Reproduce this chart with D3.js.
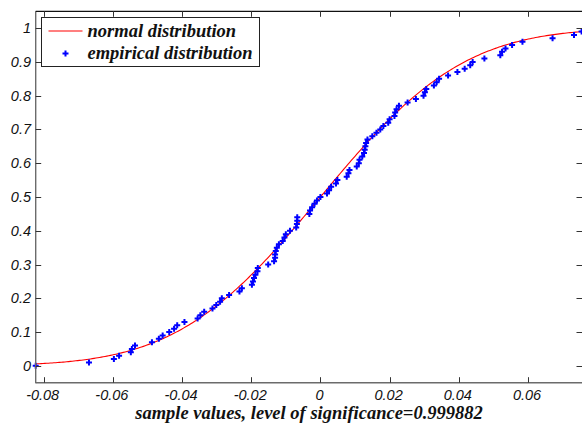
<!DOCTYPE html>
<html>
<head>
<meta charset="utf-8">
<script src="https://cdn.jsdelivr.net/npm/d3@7"></script>
<style>
  html, body { margin: 0; padding: 0; background: #fff; }
  svg { display: block; }
  .tick-label { font-family: "Liberation Sans", Arial, sans-serif; font-style: italic; font-size: 14.5px; fill: #111; }
  .serif-label { font-family: "Liberation Serif", "Times New Roman", serif; font-style: italic; font-weight: bold; font-size: 18.5px; fill: #111; }
</style>
</head>
<body>
<svg id="chart" width="582" height="425"></svg>
<script>
// Sorted sample values and their empirical CDF levels
const sampleValues = [
  -0.0823, -0.0669, -0.0597, -0.0582, -0.0548, -0.0545, -0.0536, -0.0487, -0.0467, -0.0456,
  -0.0437, -0.0423, -0.0414, -0.0393, -0.0355, -0.0347, -0.0336, -0.0312, -0.0301, -0.0290,
  -0.0285, -0.0264, -0.0234, -0.0227, -0.0198, -0.0195, -0.0192, -0.0188, -0.0182, -0.0181,
  -0.0151, -0.0134, -0.0131, -0.0131, -0.0129, -0.0126, -0.0120, -0.0109, -0.0104, -0.0100,
  -0.0088, -0.0070, -0.0068, -0.0067, -0.0067, -0.0032, -0.0030, -0.0024, -0.0017, -0.0010,
   0.0000,  0.0019,  0.0025,  0.0031,  0.0045,  0.0049,  0.0076,  0.0081,  0.0084,  0.0105,
   0.0111,  0.0113,  0.0121,  0.0126,  0.0128,  0.0130,  0.0132,  0.0136,  0.0150,  0.0162,
   0.0173,  0.0182,  0.0196,  0.0200,  0.0214,  0.0216,  0.0220,  0.0227,  0.0252,  0.0276,
   0.0298,  0.0302,  0.0306,  0.0328,  0.0336,  0.0343,  0.0369,  0.0396,  0.0417,  0.0433,
   0.0440,  0.0474,  0.0520,  0.0525,  0.0535,  0.0554,  0.0584,  0.0671,  0.0733,  0.0755
];
const empiricalCdf = [
  0.00, 0.01, 0.02, 0.03, 0.04, 0.05, 0.06, 0.07, 0.08, 0.09,
  0.10, 0.11, 0.12, 0.13, 0.14, 0.15, 0.16, 0.17, 0.18, 0.19,
  0.20, 0.21, 0.22, 0.23, 0.24, 0.25, 0.26, 0.27, 0.28, 0.29,
  0.30, 0.31, 0.32, 0.33, 0.34, 0.35, 0.36, 0.37, 0.38, 0.39,
  0.40, 0.41, 0.42, 0.43, 0.44, 0.45, 0.46, 0.47, 0.48, 0.49,
  0.50, 0.51, 0.52, 0.53, 0.54, 0.55, 0.56, 0.57, 0.58, 0.59,
  0.60, 0.61, 0.62, 0.63, 0.64, 0.65, 0.66, 0.67, 0.68, 0.69,
  0.70, 0.71, 0.72, 0.73, 0.74, 0.75, 0.76, 0.77, 0.78, 0.79,
  0.80, 0.81, 0.82, 0.83, 0.84, 0.85, 0.86, 0.87, 0.88, 0.89,
  0.90, 0.91, 0.92, 0.93, 0.94, 0.95, 0.96, 0.97, 0.98, 0.99
];

// Fitted normal distribution parameters
const fitMean = 0.0;
const fitSigma = 0.0325;

const xLimits = [-0.0823, 0.0759];
const yLimits = [-0.05, 1.05];
const xTicks = [-0.08, -0.06, -0.04, -0.02, 0, 0.02, 0.04, 0.06];
const xTickLabels = ["-0.08", "-0.06", "-0.04", "-0.02", "0", "0.02", "0.04", "0.06"];
const yTicks = [0, 0.1, 0.2, 0.3, 0.4, 0.5, 0.6, 0.7, 0.8, 0.9, 1];
const yTickLabels = ["0", "0.1", "0.2", "0.3", "0.4", "0.5", "0.6", "0.7", "0.8", "0.9", "1"];

const legendLabels = ["normal distribution", "empirical distribution"];
const xAxisTitle = "sample values, level of significance=0.999882";

const svg = d3.select("#chart");
const plotLeft = 35.7, plotRight = 583, plotTop = 11.3, plotBottom = 382.7;

const x = d3.scaleLinear().domain(xLimits).range([plotLeft, plotRight]);
const y = d3.scaleLinear().domain(yLimits).range([plotBottom, plotTop]);

svg.append("rect").attr("width", 582).attr("height", 425).attr("fill", "#fff");

// Error function approximation (Abramowitz & Stegun 7.1.26)
function erf(z) {
  const s = z < 0 ? -1 : 1;
  z = Math.abs(z);
  const t = 1 / (1 + 0.3275911 * z);
  const p = t * (0.254829592 + t * (-0.284496736 + t * (1.421413741 + t * (-1.453152027 + t * 1.061405429))));
  return s * (1 - p * Math.exp(-z * z));
}
const normalCdf = v => 0.5 * (1 + erf((v - fitMean) / (fitSigma * Math.SQRT2)));

const plot = svg.append("g");
const clipId = "plot-clip";
svg.append("clipPath").attr("id", clipId)
  .append("rect").attr("x", plotLeft).attr("y", plotTop)
  .attr("width", plotRight - plotLeft).attr("height", plotBottom - plotTop);

// Theoretical CDF curve
const [xMin, xMax] = x.domain();
const curveXs = d3.range(0, 301).map(i => xMin + (xMax - xMin) * i / 300);
plot.append("path")
  .datum(curveXs)
  .attr("clip-path", `url(#${clipId})`)
  .attr("fill", "none")
  .attr("stroke", "#ff0000")
  .attr("stroke-width", 1.1)
  .attr("d", d3.line().x(d => x(d)).y(d => y(normalCdf(d))));

// Empirical CDF points
const marker = d3.symbol().type(d3.symbolCross).size(20);
plot.append("g").selectAll("path")
  .data(sampleValues.map((v, i) => [v, empiricalCdf[i]]))
  .join("path")
  .attr("transform", d => `translate(${x(d[0])},${y(d[1])})`)
  .attr("d", marker)
  .attr("fill", "#0000ff");

// Axes: ticks drawn inward on all four sides
const axisG = svg.append("g");
const tickLen = 5.5;
axisG.append("line").attr("x1", plotLeft).attr("x2", plotLeft).attr("y1", plotTop).attr("y2", plotBottom + 0.5)
  .attr("stroke", "#6b6b6b").attr("stroke-width", 1.4);
axisG.append("line").attr("x1", plotLeft).attr("x2", 582).attr("y1", plotBottom).attr("y2", plotBottom)
  .attr("stroke", "#6b6b6b").attr("stroke-width", 1.4);
axisG.append("line").attr("x1", plotLeft).attr("x2", 582).attr("y1", plotTop).attr("y2", plotTop)
  .attr("stroke", "#111").attr("stroke-width", 1.2);
axisG.append("line").attr("x1", plotRight).attr("x2", plotRight).attr("y1", plotTop).attr("y2", plotBottom)
  .attr("stroke", "#111").attr("stroke-width", 1.2);

xTicks.forEach((t, i) => {
  const px = Math.round(x(t)) + 0.5;
  axisG.append("line").attr("x1", px).attr("x2", px).attr("y1", plotBottom).attr("y2", plotBottom - tickLen)
    .attr("stroke", "#333").attr("stroke-width", 1);
  axisG.append("line").attr("x1", px).attr("x2", px).attr("y1", plotTop).attr("y2", plotTop + tickLen)
    .attr("stroke", "#333").attr("stroke-width", 1);
  axisG.append("text").attr("class", "tick-label")
    .attr("x", x(t) - 1).attr("y", 400)
    .attr("text-anchor", "middle")
    .text(xTickLabels[i]);
});

yTicks.forEach((t, i) => {
  const py = Math.round(y(t)) + 0.5;
  axisG.append("line").attr("x1", plotLeft).attr("x2", plotLeft + tickLen).attr("y1", py).attr("y2", py)
    .attr("stroke", "#333").attr("stroke-width", 1);
  axisG.append("line").attr("x1", plotRight).attr("x2", plotRight - tickLen - 1).attr("y1", py).attr("y2", py)
    .attr("stroke", "#333").attr("stroke-width", 1);
  axisG.append("text").attr("class", "tick-label")
    .attr("x", 31).attr("y", y(t) + 5)
    .attr("text-anchor", "end")
    .text(yTickLabels[i]);
});

// X axis title
svg.append("text").attr("class", "serif-label")
  .attr("x", 309).attr("y", 419)
  .attr("text-anchor", "middle")
  .text(xAxisTitle);

// Legend
const legend = svg.append("g");
legend.append("rect")
  .attr("x", 41.5).attr("y", 17.5).attr("width", 218).attr("height", 49)
  .attr("fill", "#fff").attr("stroke", "#222").attr("stroke-width", 1);
legend.append("line")
  .attr("x1", 48.5).attr("x2", 82.5).attr("y1", 31).attr("y2", 31)
  .attr("stroke", "#ff0000").attr("stroke-width", 1.1);
legend.append("path")
  .attr("transform", "translate(65.5,53.5)")
  .attr("d", marker).attr("fill", "#0000ff");
legend.append("text").attr("class", "serif-label")
  .attr("x", 87.5).attr("y", 36.5).text(legendLabels[0]);
legend.append("text").attr("class", "serif-label")
  .attr("x", 87.5).attr("y", 59).text(legendLabels[1]);
</script>
</body>
</html>
